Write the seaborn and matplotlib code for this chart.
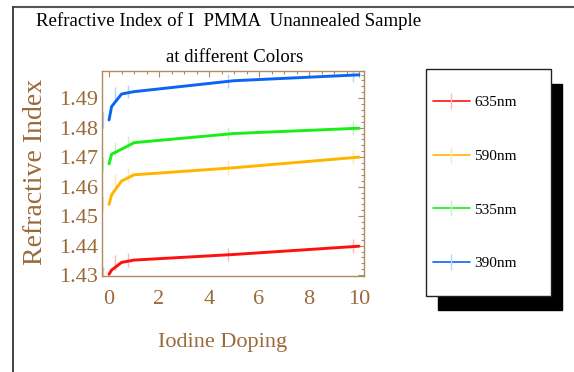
import numpy as np
import pandas as pd
import matplotlib
matplotlib.use("Agg")
import matplotlib.pyplot as plt
from matplotlib.lines import Line2D
from matplotlib.patches import Rectangle
from matplotlib.ticker import MultipleLocator
import seaborn as sns

# ---- data ----
doping = [0, 0.1, 0.5, 1, 5, 10]
n_635 = [1.4303, 1.4317, 1.4343, 1.4351, 1.4370, 1.4398]
n_590 = [1.4540, 1.4572, 1.4619, 1.4640, 1.4664, 1.4700]
n_535 = [1.4677, 1.4710, 1.4727, 1.4749, 1.4780, 1.4798]
n_390 = [1.4826, 1.4871, 1.4914, 1.4922, 1.4959, 1.4979]

err_doping = [0, 0.5, 1, 5, 10]
err_635_y = [1.4303, 1.4343, 1.4351, 1.4370, 1.4398]
err_590_y = [1.4540, 1.4619, 1.4640, 1.4664, 1.4700]
err_535_y = [1.4677, 1.4727, 1.4749, 1.4780, 1.4798]
err_390_y = [1.4826, 1.4914, 1.4922, 1.4959, 1.4979]
err_635 = [0.0024, 0.0025, 0.0023, 0.0023, 0.0023]
err_590 = [0.0024, 0.0024, 0.0023, 0.0025, 0.0024]
err_535 = [0.0024, 0.0024, 0.0023, 0.0023, 0.0024]
err_390 = [0.0026, 0.0024, 0.0023, 0.0023, 0.0023]

labels = ["635nm", "590nm", "535nm", "390nm"]
colors = ["#ff1010", "#ffb400", "#18ee18", "#0a64f5"]

# ---- figure ----
sns.set_theme(style="white")
plt.rcParams["font.family"] = ["Liberation Serif", "DejaVu Serif"]
brown = "#9a6a3a"
spine_c = "#b08a62"

W, H = 574, 372
fig = plt.figure(figsize=(W / 100, H / 100), dpi=100)
fig.patch.set_facecolor("white")

def fx(px):
    return px / W

def fy(py):
    return 1 - py / H

ax = fig.add_axes([fx(102.3), fy(276), fx(364) - fx(102.3), fy(70.7) - fy(276)])

df = pd.DataFrame({
    "doping": doping * 4,
    "n": n_635 + n_590 + n_535 + n_390,
    "color": sum([[l] * len(doping) for l in labels], []),
})
sns.lineplot(data=df, x="doping", y="n", hue="color", palette=colors,
             hue_order=labels, linewidth=2.1, legend=False, ax=ax, zorder=3)

err_ys = [err_635_y, err_590_y, err_535_y, err_390_y]
errs = [err_635, err_590, err_535, err_390]
shift = -0.25
for c, ys, es in zip(colors, err_ys, errs):
    ax.errorbar(np.array(err_doping) + shift, ys, yerr=es, fmt="none",
                ecolor=c, alpha=0.3, elinewidth=1.0, capsize=0, zorder=2)

ax.set_xlim(-0.27, 10.2)
ax.set_ylim(1.4297, 1.4993)
ax.set_xticks([0, 2, 4, 6, 8, 10])
ax.set_yticks([1.43, 1.44, 1.45, 1.46, 1.47, 1.48, 1.49])
ax.set_yticklabels(["1.43", "1.44", "1.45", "1.46", "1.47", "1.48", "1.49"])
ax.xaxis.set_minor_locator(MultipleLocator(0.5))
ax.yaxis.set_minor_locator(MultipleLocator(0.002))
ax.tick_params(which="both", direction="in", top=True, right=True,
               color=spine_c, width=0.8)
ax.tick_params(which="major", length=4.5, labelsize=16, labelcolor=brown)
ax.tick_params(axis="x", which="major", pad=10)
ax.tick_params(axis="y", which="major", pad=3)
ax.tick_params(which="minor", length=2.5)
for s in ax.spines.values():
    s.set_color(spine_c)
    s.set_linewidth(1.0)
ax.grid(False)

ax.set_xlabel("Iodine Doping", fontsize=16, color=brown, va="center")
ax.xaxis.set_label_coords((222.5 - 102.3) / 261.7, (276 - 343) / 205.3)
ax.set_ylabel("Refractive Index", fontsize=20, color=brown, va="center")
ax.yaxis.set_label_coords((36 - 102.3) / 261.7, 0.505)

# titles
fig.text(fx(229), fy(21), "Refractive Index of I  PMMA  Unannealed Sample",
         ha="center", va="center", fontsize=13.6, color="black")
fig.text(fx(235), fy(58), "at different Colors",
         ha="center", va="center", fontsize=13.5, color="black")

# outer frame (top and left)
fig.add_artist(Line2D([fx(13), fx(574)], [fy(6.5), fy(6.5)], color="#555555", lw=1.5))
fig.add_artist(Line2D([fx(13), fx(13)], [fy(6.5), fy(372)], color="#333333", lw=1.3))

# legend box with shadow
fig.add_artist(Rectangle((fx(438), fy(310)), fx(562) - fx(438), fy(84) - fy(310),
                         facecolor="black", edgecolor="black", zorder=1))
fig.add_artist(Rectangle((fx(426), fy(296)), fx(551) - fx(426), fy(69) - fy(296),
                         facecolor="white", edgecolor="#222222", lw=1.0, zorder=2))

handles = []
for c in colors:
    rgb = np.array(matplotlib.colors.to_rgb(c))
    lc = 1 - 0.3 * (1 - rgb)
    handles.append(Line2D([], [], color=c, lw=1.2, marker="|", markersize=11,
                          markeredgecolor=lc, markeredgewidth=1.0))
leg = fig.legend(handles, labels, loc="center left",
                 bbox_to_anchor=(fx(433), fy(183)), frameon=False,
                 fontsize=11, handlelength=2.42, handletextpad=0.26,
                 labelspacing=2.62, borderpad=0, borderaxespad=0, numpoints=1)
leg.set_zorder(3)
for t in leg.get_texts():
    t.set_color("black")

fig.savefig("out.png", dpi=100)
